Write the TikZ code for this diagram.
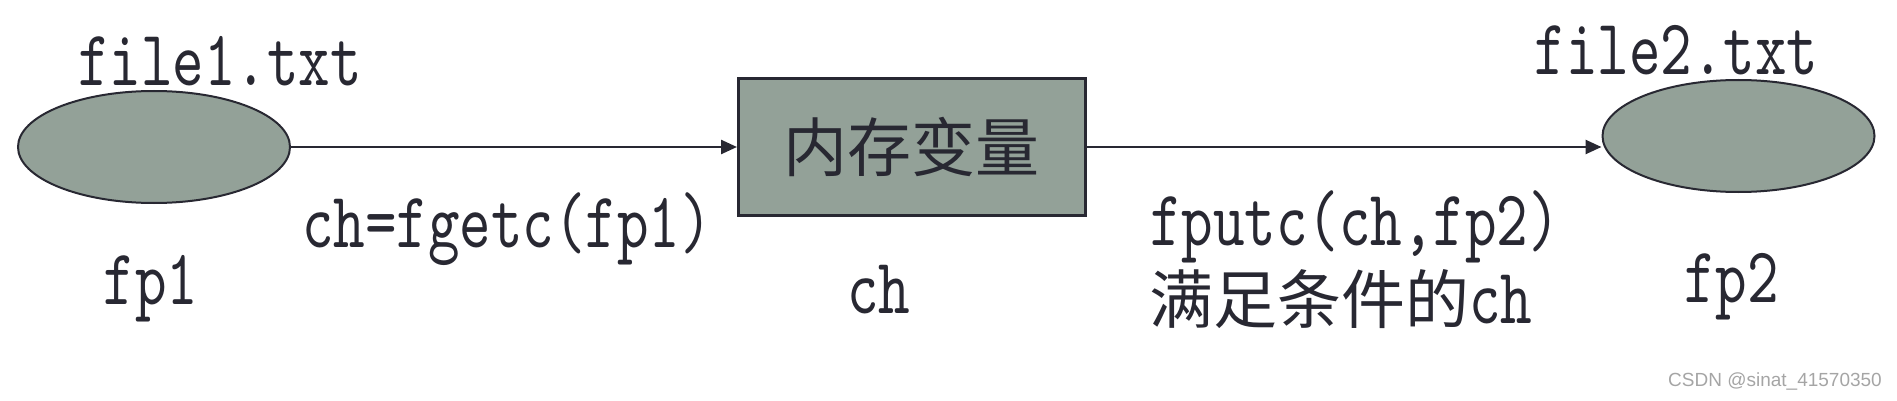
\documentclass[tikz,border=0pt]{standalone}
\usepackage{fontspec}
\setmainfont{Liberation Serif}
\newfontfamily\latfont[FakeStretch=0.76]{lmmono10-regular.otf}
\newfontfamily\cjk{Noto Sans CJK SC}
\newfontfamily\markfont{Liberation Sans}
\usetikzlibrary{shapes.geometric, arrows.meta, positioning}
\definecolor{filegray}{RGB}{147,161,152}
\definecolor{edgedark}{RGB}{40,40,50}
\definecolor{markgray}{RGB}{165,165,165}
\tikzset{
  % File drawn as a filled ellipse
  filenode/.style={
    ellipse, draw=edgedark, fill=filegray, line width=2pt,
    minimum width=272pt, minimum height=112pt, inner sep=0pt
  },
  % Memory variable box
  memblock/.style={
    rectangle, draw=edgedark, fill=filegray, line width=2.5pt,
    minimum width=347pt, minimum height=137pt, text=edgedark,
    font=\cjk\fontsize{64}{70}\selectfont
  },
  flowarrow/.style={-{Triangle[length=16pt, width=14pt]}, line width=2.5pt, color=edgedark},
  flowlabel/.style={inner sep=0pt, text=edgedark, font=\latfont\fontsize{79}{84}\selectfont},
  marklabel/.style={inner sep=0pt, text=markgray, font=\markfont\fontsize{19}{20}\selectfont}
}

\begin{document}
\begin{tikzpicture}[x=1pt, y=-1pt]
  \useasboundingbox (0,0) rectangle (1897,401);

  % Files and memory
  \node[filenode] (f1) at (154,147) {};
  \node[memblock, right=446pt of f1] (mem) {内存变量};
  \node[filenode, right=515pt of mem, yshift=11pt] (f2) {};

  % Arrows
  \draw[flowarrow] (f1.east) -- (mem.west)
    node[flowlabel, midway, below=100pt, anchor=base, xshift=-7pt] (getlbl) {ch=fgetc(fp1)};
  \draw[flowarrow] (mem.east) -- (mem.east -| f2.west)
    node[flowlabel, midway, below=98pt, anchor=base, xshift=11pt] (putlbl) {fputc(ch,fp2)};

  % Names
  \node[flowlabel, above=4pt of f1.north, anchor=base, xshift=66pt] (name1) {file1.txt};
  \node[flowlabel, below=100pt of f1.south, anchor=base, xshift=-3pt] (ptr1) {fp1};
  \node[flowlabel, below=97pt of mem.south, anchor=base, xshift=-33pt] (var) {ch};
  \node[flowlabel, above=4pt of f2.north, anchor=base, xshift=-62pt] (name2) {file2.txt};
  \node[flowlabel, below=109pt of f2.south, anchor=base, xshift=-7pt] (ptr2) {fp2};
  \node[flowlabel, below=78pt of putlbl.base west, anchor=base west] (cond)
    {{\cjk\fontsize{64}{70}\selectfont 满足条件的}ch};

  % Watermark
  \node[marklabel, anchor=east] (mark) at (1882,382) {CSDN @sinat\_41570350};
\end{tikzpicture}
\end{document}
